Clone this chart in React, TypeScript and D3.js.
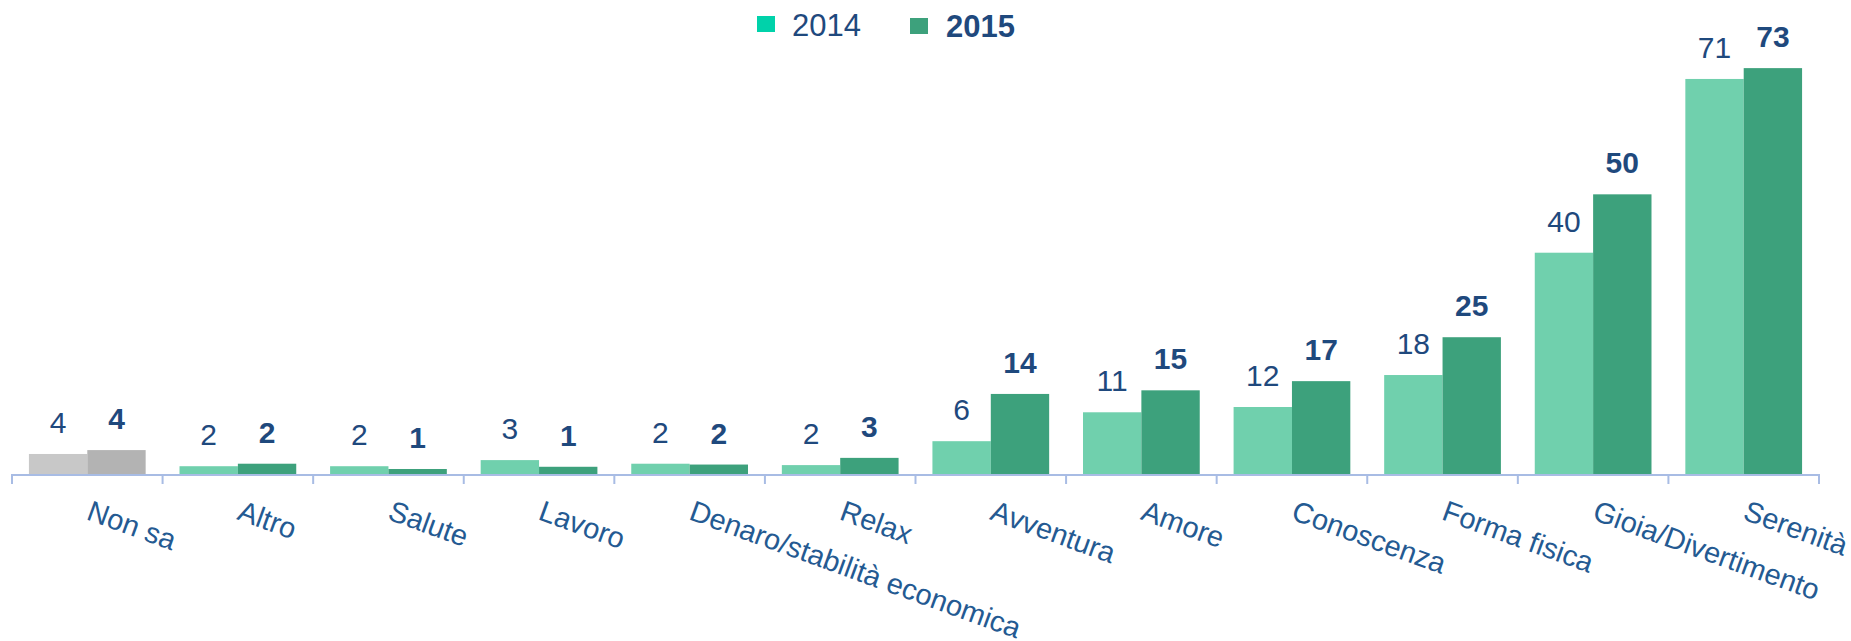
import React from "react";
import * as d3 from "d3";

const categories = [
  "Non sa",
  "Altro",
  "Salute",
  "Lavoro",
  "Denaro/stabilità economica",
  "Relax",
  "Avventura",
  "Amore",
  "Conoscenza",
  "Forma fisica",
  "Gioia/Divertimento",
  "Serenità",
];
const seriesNames = ["2014", "2015"];
const values2014 = [3.6, 1.4, 1.4, 2.5, 1.85, 1.6, 5.9, 11.1, 12.05, 17.8, 39.8, 71.05];
const values2015 = [4.3, 1.85, 0.9, 1.3, 1.7, 2.9, 14.4, 15.05, 16.7, 24.6, 50.3, 73.0];
const labels2014 = ["4", "2", "2", "3", "2", "2", "6", "11", "12", "18", "40", "71"];
const labels2015 = ["4", "2", "1", "1", "2", "3", "14", "15", "17", "25", "50", "73"];
const neutralCategories = ["Non sa"];

const W = 1851;
const H = 641;
const FONT = "'Liberation Sans', Arial, sans-serif";
const VALUE_COLOR = "#1F497D";
const CAT_COLOR = "#245A92";
const AXIS_COLOR = "#A8BCE4";
const barColors = ["#70D0AD", "#3DA17C"];
const greyColors = ["#C8C8C8", "#B3B3B3"];
const legendColors = ["#00D2AA", "#3DA17C"];

export default function App() {
  const x = d3.scaleBand<string>().domain(categories).range([12, 1819]).padding(0);
  const inner = d3
    .scaleBand<string>()
    .domain(seriesNames)
    .range([0, x.bandwidth()])
    .paddingInner(0)
    .paddingOuter(0.29);
  const y = d3.scaleLinear().domain([0, 80]).range([474, 29.2]);
  const y0 = y(0);

  const series = [
    { name: "2014", values: values2014, labels: labels2014, bold: false },
    { name: "2015", values: values2015, labels: labels2015, bold: true },
  ];

  const tickXs = categories.map((c) => x(c) as number).concat([x.range()[1]]);

  return (
    <svg
      width={W}
      height={H}
      viewBox={`0 0 ${W} ${H}`}
      style={{ position: "absolute", left: 0, top: 0, display: "block", background: "#fff" }}
      fontFamily={FONT}
    >
      {/* bars */}
      {series.map((s, si) =>
        categories.map((c, i) => {
          const bx = (x(c) as number) + (inner(s.name) as number);
          const by = y(s.values[i]);
          const neutral = neutralCategories.includes(c);
          return (
            <rect
              key={`b-${si}-${i}`}
              x={bx}
              y={by}
              width={inner.bandwidth()}
              height={y0 - by}
              fill={neutral ? greyColors[si] : barColors[si]}
            />
          );
        })
      )}
      {/* value labels */}
      {series.map((s, si) =>
        categories.map((c, i) => {
          const cx = (x(c) as number) + (inner(s.name) as number) + inner.bandwidth() / 2;
          return (
            <text
              key={`l-${si}-${i}`}
              x={cx}
              y={y(s.values[i]) - 21}
              textAnchor="middle"
              fontSize={30}
              fontWeight={s.bold ? "bold" : "normal"}
              fill={VALUE_COLOR}
            >
              {s.labels[i]}
            </text>
          );
        })
      )}
      {/* axis */}
      <line x1={x.range()[0]} x2={x.range()[1]} y1={y0 + 1} y2={y0 + 1} stroke={AXIS_COLOR} strokeWidth={2} />
      {tickXs.map((tx, i) => (
        <line key={`t-${i}`} x1={tx} x2={tx} y1={y0} y2={y0 + 10} stroke={AXIS_COLOR} strokeWidth={2} />
      ))}
      {/* category labels */}
      {categories.map((c) => {
        const cx = (x(c) as number) + x.bandwidth() / 2;
        return (
          <text
            key={`c-${c}`}
            transform={`translate(${cx - 2},${519}) rotate(20)`}
            textAnchor="start"
            fontSize={29}
            fill={CAT_COLOR}
          >
            {c}
          </text>
        );
      })}
      {/* legend */}
      <rect x={757} y={16} width={18} height={16} fill={legendColors[0]} />
      <text x={792} y={36} fontSize={31} fill={VALUE_COLOR}>
        {seriesNames[0]}
      </text>
      <rect x={910} y={18} width={18} height={16} fill={legendColors[1]} />
      <text x={946} y={37} fontSize={31} fontWeight="bold" fill={VALUE_COLOR}>
        {seriesNames[1]}
      </text>
    </svg>
  );
}
